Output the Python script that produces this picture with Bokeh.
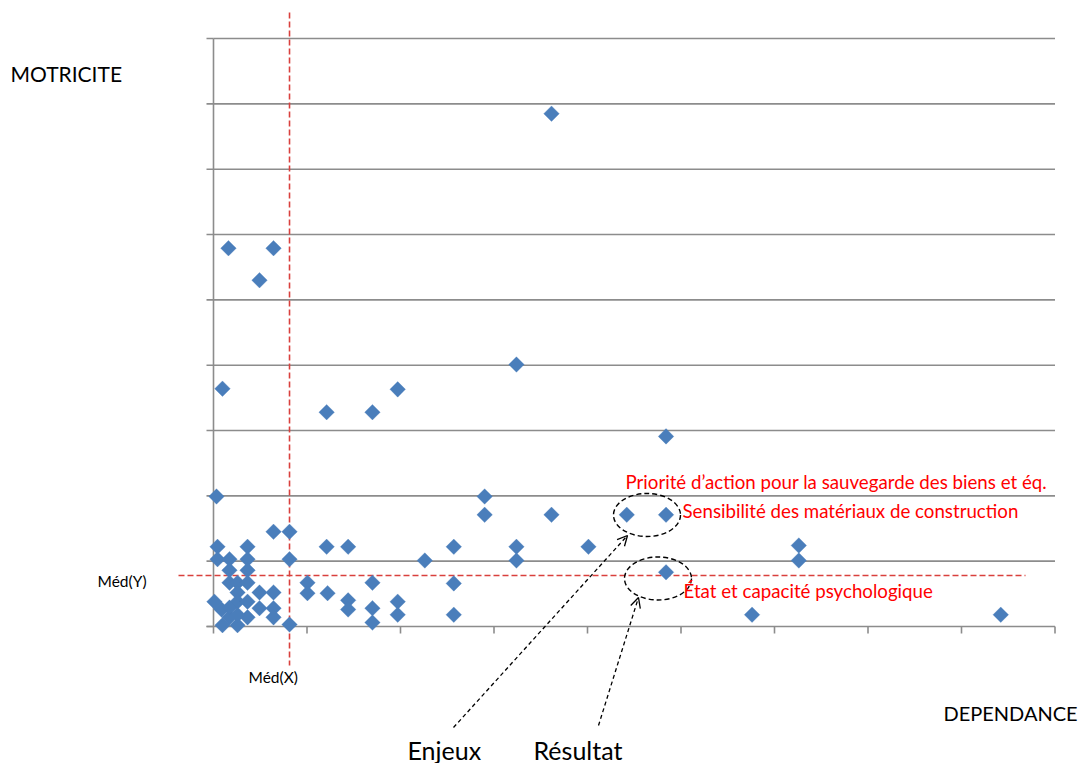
import numpy as np
from bokeh.plotting import figure
from bokeh.models import Range1d, Label, Arrow, OpenHead
from bokeh.embed import file_html
from bokeh.resources import INLINE

# ---------------- data ----------------
dependance = [36.15, 1.6, 6.42, 4.92, 32.4, 0.96, 19.7, 12.1, 17.0, 48.4,
              0.32, 29.0, 29.0, 36.15, 44.2, 48.4, 6.42, 8.13, 0.43, 3.64,
              12.1, 14.4, 25.7, 32.4, 40.1, 62.6, 0.43, 1.71, 3.64, 8.13,
              22.6, 32.4, 62.6, 48.4, 1.71, 3.64, 10.05, 10.05, 12.2, 17.0,
              14.4, 14.4, 17.0, 17.0, 19.7, 19.7, 25.7, 25.7, 8.13, 57.6,
              84.2, 1.71, 2.57, 3.64, 2.57, 4.92, 6.42, 0.1, 2.57, 3.64,
              4.92, 6.42, 1.71, 3.64, 6.42, 0.96, 2.57, 0.86, 1.71, 2.57]
motricite = [78.5, 57.9, 57.9, 53.0, 40.1, 36.4, 36.3, 32.8, 32.8, 29.1,
             19.9, 19.9, 17.1, 17.1, 17.1, 17.1, 14.5, 14.5, 12.2, 12.2,
             12.2, 12.2, 12.2, 12.2, 12.2, 12.4, 10.3, 10.3, 10.3, 10.3,
             10.1, 10.1, 10.1, 8.3, 8.6, 8.6, 6.7, 5.1, 5.1, 6.7,
             4.0, 2.6, 2.8, 0.6, 3.8, 1.8, 6.6, 1.8, 0.3, 1.8,
             1.8, 6.7, 6.7, 6.7, 5.2, 5.2, 5.2, 3.8, 3.8, 3.8,
             2.8, 2.8, 1.4, 1.4, 1.4, 0.2, 0.2, 2.6, 2.9, 1.8]
x_ticks = [0, 10, 20, 30, 40, 50, 60, 70, 80, 90]
y_ticks = [0, 10, 20, 30, 40, 50, 60, 70, 80, 90]
med_x = 8.13
med_y = 7.8

# ---------------- layout ----------------
W, H = 1081, 763
OFF = 0                    # page offset of the figure
OX, OY = 213, 626          # picture pixel of data origin
SX, SY = 9.35, 6.533       # pixels per data unit


def dx(px):
    return (px - OX) / SX


def dy(py):
    return (OY - py) / SY


p = figure(width=W, height=H, output_backend="svg", toolbar_location=None,
           x_range=Range1d(dx(OFF), dx(OFF + W)), y_range=Range1d(dy(OFF + H), dy(OFF)),
           x_axis_location=None, y_axis_location=None, min_border=0,
           outline_line_color=None, background_fill_color="white")
p.xgrid.visible = False
p.ygrid.visible = False

GRID = "#8C8C8C"
xmax, ymax = x_ticks[-1], y_ticks[-1]
# horizontal gridlines
p.segment(x0=[0] * (len(y_ticks) - 1), y0=y_ticks[1:], x1=[xmax] * (len(y_ticks) - 1),
          y1=y_ticks[1:], line_color=GRID, line_width=1.6)
# axes lines
p.segment(x0=[0, dx(206)], y0=[0, 0], x1=[0, xmax], y1=[ymax, 0], line_color=GRID, line_width=1.6)
# y ticks (out, to the left)
p.segment(x0=[dx(206)] * len(y_ticks), y0=y_ticks, x1=[0] * len(y_ticks), y1=y_ticks,
          line_color=GRID, line_width=1.6)
# x ticks (out, below)
p.segment(x0=x_ticks, y0=[0] * len(x_ticks), x1=x_ticks, y1=[dy(633)] * len(x_ticks),
          line_color=GRID, line_width=1.6)

# median lines
RED = "#D9403D"
p.segment(x0=[med_x, dx(178)], y0=[dy(12), med_y], x1=[med_x, dx(1025)], y1=[dy(665), med_y],
          line_color=RED, line_width=1.6, line_dash="6 3")

# points
p.scatter(dependance, motricite, marker="square", angle=np.pi / 4, size=11,
          fill_color="#4A7EBB", line_color="#4A7EBB", line_width=0.3)

# dashed ellipses
p.ellipse(x=[dx(646.5), dx(657.5)], y=[dy(514.5), dy(578)], width=67, height=43,
          width_units="screen", height_units="screen", fill_color=None,
          line_color="black", line_width=1.4, line_dash="5 3")

# arrows
for (x0, y0, x1, y1) in [(453, 727, 627, 535), (598, 725, 638, 597)]:
    p.add_layout(Arrow(x_start=dx(x0), y_start=dy(y0), x_end=dx(x1), y_end=dy(y1),
                       line_color="black", line_width=1.3, line_dash="4 3",
                       end=OpenHead(size=10, line_color="black", line_width=1.3)))

FONT = "Lato"


def lab(text, x, y, size, color="black"):
    p.add_layout(Label(x=dx(x), y=dy(y), text=text, text_font=FONT,
                       text_font_size=f"{size}px", text_color=color,
                       text_baseline="middle", text_align="left"))


lab("MOTRICITE", 10, 73, 21)
lab("DEPENDANCE", 943, 712, 20)
lab("Méd(Y)", 97, 580, 15.5)
lab("Méd(X)", 248, 676, 15.5)
lab("Enjeux", 407, 749, 25)
lab("Résultat", 533, 749, 25)
lab("Priorité d’action pour la sauvegarde des biens et éq.", 625, 481, 18.7, "#FF0000")
lab("Sensibilité des matériaux de construction", 682, 510, 18.7, "#FF0000")
lab("État  et capacité psychologique", 683, 590, 18.7, "#FF0000")

open("out.html", "w").write(file_html(p, INLINE))
